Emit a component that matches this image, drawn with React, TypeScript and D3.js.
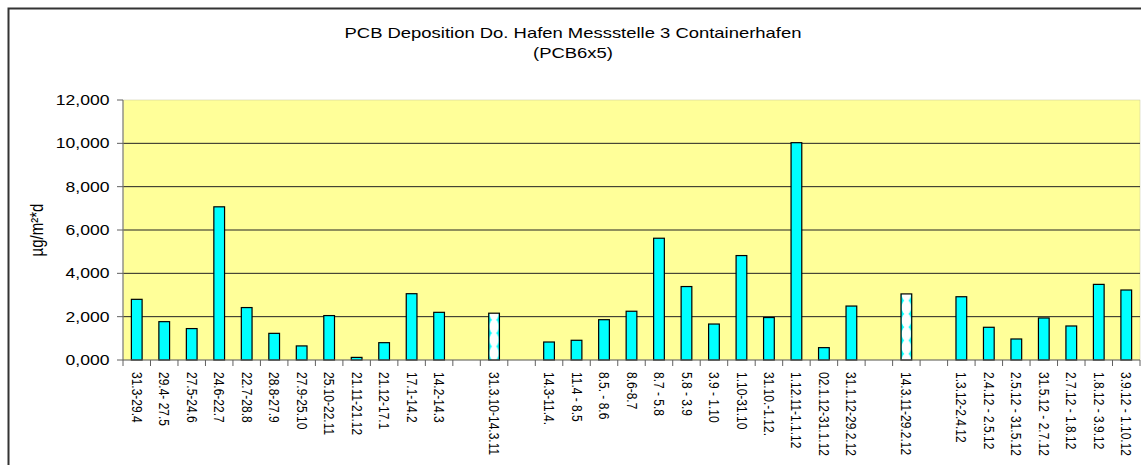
import React from "react";
import * as d3 from "d3";

const titleLines = ["PCB Deposition Do. Hafen Messstelle 3 Containerhafen", "(PCB6x5)"];
const yAxisLabel = "µg/m²*d";

const categories = [
  "31.3-29.4", "29.4- 27.5", "27.5-24.6", "24.6-22.7", "22.7-28.8", "28.8-27.9",
  "27.9-25.10", "25.10-22.11", "21.11-21.12", "21.12-17.1", "17.1-14.2", "14.2-14.3",
  "", "31.3.10-14.3.11", "",
  "14.3-11.4.", "11.4 - 8.5", "8.5. - 8.6", "8.6-8.7", "8.7 - 5.8", "5.8 - 3.9",
  "3.9 - 1.10", "1.10-31.10", "31.10.-1.12.", "1.12.11-1.1.12", "02.1.12-31.1.12",
  "31.1.12-29.2.12", "", "14.3.11-29.2.12", "",
  "1.3.12-2.4.12", "2.4.12 - 2.5.12", "2.5.12 - 31.5.12", "31.5.12 - 2.7.12",
  "2.7.12 - 1.8.12", "1.8.12 - 3.9.12", "3.9.12 - 1.10.12",
];

// monthly deposition values (µg/m²*d)
const monthlyValues: (number | null)[] = [
  2.80, 1.77, 1.45, 7.07, 2.42, 1.23, 0.65, 2.05, 0.12, 0.80, 3.06, 2.20,
  null, null, null,
  0.83, 0.91, 1.86, 2.25, 5.62, 3.39, 1.66, 4.82, 1.96, 10.03, 0.57, 2.49,
  null, null, null,
  2.92, 1.51, 0.97, 1.94, 1.57, 3.49, 3.23,
];

// annual (period) values, drawn patterned
const periodValues: (number | null)[] = [
  null, null, null, null, null, null, null, null, null, null, null, null,
  null, 2.16, null,
  null, null, null, null, null, null, null, null, null, null, null, null,
  null, 3.05, null,
  null, null, null, null, null, null, null,
];

const yTicks = [0, 2, 4, 6, 8, 10, 12];
const gridValues = [2, 4, 6, 8, 10];

const W = 1141;
const H = 465;
const plotLeft = 123;
const plotRight = 1140;
const plotTop = 100;
const plotBottom = 360;
const SX = 1.17; // horizontal stretch of glyphs
const FONT = "'Liberation Sans', Arial, Helvetica, sans-serif";

const deLocale = d3.formatLocale({ decimal: ",", thousands: ".", grouping: [3], currency: ["", "€"] });
const fmt = deLocale.format(".3f");

export default function App() {
  const x = d3.scaleBand<number>().domain(d3.range(categories.length)).range([plotLeft, plotRight]).padding(0);
  const y = d3.scaleLinear().domain([0, 12]).range([plotBottom, plotTop]);
  const step = x.step();
  const bw = step * 0.39;
  const patH = 13.3;

  const boundaries = d3.range(categories.length + 1).map((i) => plotLeft + i * step);

  return (
    <svg width={W} height={H} style={{ position: "absolute", left: 0, top: 0, background: "#fff" }} fontFamily={FONT}>
      <defs>
        {periodValues.map((v, i) =>
          v == null ? null : (
            <pattern
              key={i}
              id={`pat${i}`}
              patternUnits="userSpaceOnUse"
              x={(x(i) as number) + (step - bw) / 2}
              y={y(v)}
              width={bw}
              height={patH}
            >
              <rect width={bw} height={patH} fill="#00FFFF" />
              <ellipse cx={bw / 2} cy={0} rx={bw * 0.44} ry={patH * 0.56} fill="#fff" />
              <ellipse cx={bw / 2} cy={patH} rx={bw * 0.44} ry={patH * 0.56} fill="#fff" />
            </pattern>
          )
        )}
      </defs>
      <rect x={8.5} y={8.5} width={W + 20} height={H + 20} fill="#fff" stroke="#333" strokeWidth={2} />

      {titleLines.map((t, i) => (
        <text key={i} transform={`translate(573, ${38 + i * 20}) scale(1.23,1)`} textAnchor="middle" fontSize={15} fill="#000">
          {t}
        </text>
      ))}

      <rect x={plotLeft} y={plotTop} width={plotRight - plotLeft} height={plotBottom - plotTop} fill="#FFFF99" stroke="#c8c8a0" strokeWidth={0.5} />

      {gridValues.map((g) => (
        <line key={g} x1={plotLeft} x2={plotRight} y1={y(g)} y2={y(g)} stroke="#222" strokeWidth={1} />
      ))}

      {monthlyValues.map((v, i) =>
        v == null ? null : (
          <rect
            key={i}
            x={(x(i) as number) + (step - bw) / 2}
            y={y(v)}
            width={bw}
            height={plotBottom - y(v)}
            fill="#00FFFF"
            stroke="#000"
            strokeWidth={1.2}
          />
        )
      )}
      {periodValues.map((v, i) =>
        v == null ? null : (
          <rect
            key={i}
            x={(x(i) as number) + (step - bw) / 2}
            y={y(v)}
            width={bw}
            height={plotBottom - y(v)}
            fill={`url(#pat${i})`}
            stroke="#000"
            strokeWidth={1.2}
          />
        )
      )}

      {/* axes */}
      <line x1={plotLeft} x2={plotLeft} y1={plotTop} y2={plotBottom} stroke="#808080" strokeWidth={1.2} />
      <line x1={plotLeft} x2={plotRight} y1={plotBottom} y2={plotBottom} stroke="#606060" strokeWidth={1.2} />

      {yTicks.map((t) => (
        <g key={t}>
          <line x1={plotLeft - 6} x2={plotLeft} y1={y(t)} y2={y(t)} stroke="#606060" strokeWidth={1} />
          <text transform={`translate(109.5, ${y(t) + 5}) scale(${SX},1)`} textAnchor="end" fontSize={15} fill="#000">
            {fmt(t)}
          </text>
        </g>
      ))}

      {boundaries.map((bx, i) => (
        <line key={i} x1={bx} x2={bx} y1={plotBottom} y2={plotBottom + 6} stroke="#606060" strokeWidth={1} />
      ))}

      {categories.map((c, i) =>
        c ? (
          <text
            key={i}
            transform={`translate(${(x(i) as number) + step / 2}, 372) scale(${SX},1) rotate(90)`}
            dy="0.35em"
            fontSize={12}
            fill="#000"
          >
            {c}
          </text>
        ) : null
      )}

      <text transform={`translate(37, 230) scale(${SX},1) rotate(-90)`} textAnchor="middle" dy="0.35em" fontSize={15} fill="#000">
        {yAxisLabel}
      </text>
    </svg>
  );
}
